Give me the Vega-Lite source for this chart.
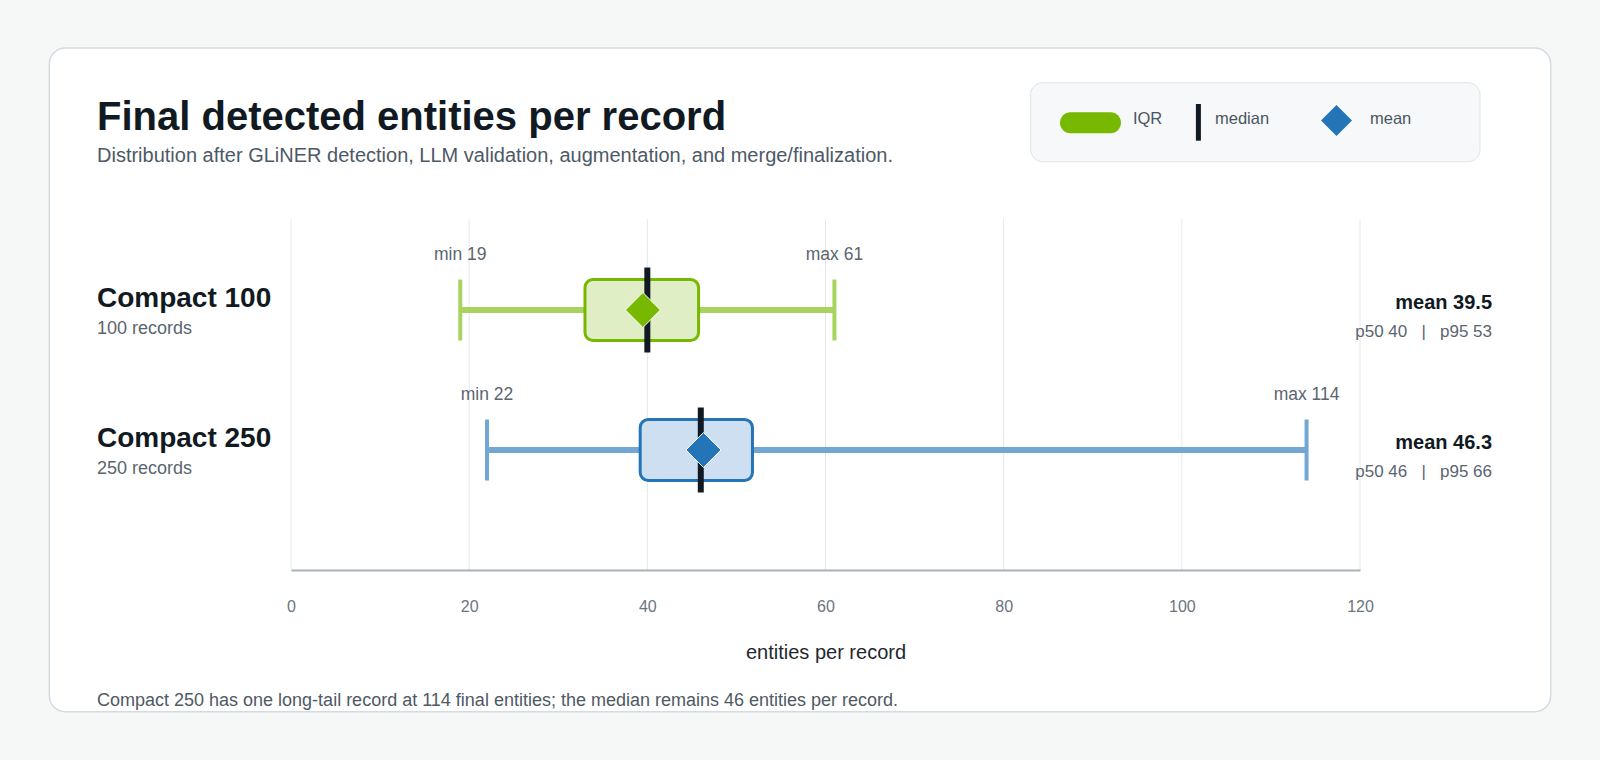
{
  "$schema": "https://vega.github.io/schema/vega-lite/v6.json",
  "width": 1069,
  "height": 351,
  "autosize": {"type": "none"},
  "padding": {"left": 291, "top": 219, "right": 240, "bottom": 190},
  "background": "#f6f8f8",
  "config": {
    "view": {"stroke": null},
    "font": "Liberation Sans",
    "axisX": {
      "grid": false, "ticks": false, "tickSize": 0,
      "domain": true, "domainColor": "#a9b2ba", "domainWidth": 2,
      "labelFont": "Liberation Sans", "labelFontSize": 16, "labelColor": "#6b7580", "labelPadding": 28.4, "labelFlush": false,
      "titleFont": "Liberation Sans", "titleFontSize": 20, "titleFontWeight": "normal", "titleColor": "#1f2830", "titlePadding": 28
    }
  },
  "title": {
    "text": "Final detected entities per record",
    "subtitle": "Distribution after GLiNER detection, LLM validation, augmentation, and merge/finalization.",
    "anchor": "start",
    "frame": "group",
    "dx": -194,
    "offset": -119,
    "font": "Liberation Sans",
    "fontSize": 40,
    "fontWeight": "bold",
    "color": "#111a22",
    "subtitleFont": "Liberation Sans",
    "subtitleFontSize": 20,
    "subtitleColor": "#4d5966",
    "subtitlePadding": 8
  },
  "datasets": {
    "groups": [
      {"group": "Compact 100", "row": 1, "records": 100, "min": 19, "q1": 33, "median": 40, "q3": 45.75, "max": 61, "mean": 39.5, "p50": 40, "p95": 53,
       "name": "Compact 100", "sub": "100 records", "minLabel": "min 19", "maxLabel": "max 61", "meanLabel": "mean 39.5", "pctLabel": "p50 40\u00a0\u00a0 |\u00a0\u00a0 p95 53"},
      {"group": "Compact 250", "row": 2, "records": 250, "min": 22, "q1": 39.2, "median": 46, "q3": 51.8, "max": 114, "mean": 46.3, "p50": 46, "p95": 66,
       "name": "Compact 250", "sub": "250 records", "minLabel": "min 22", "maxLabel": "max 114", "meanLabel": "mean 46.3", "pctLabel": "p50 46\u00a0\u00a0 |\u00a0\u00a0 p95 66"}
    ],
    "ticks": [{"tick": 0}, {"tick": 20}, {"tick": 40}, {"tick": 60}, {"tick": 80}, {"tick": 100}, {"tick": 120}]
  },
  "data": {"name": "groups"},
  "layer": [
    {
      "data": {"values": [{}]},
      "mark": {"type": "rect", "fill": "#ffffff", "stroke": "#d4dbe1", "strokeWidth": 1.5, "cornerRadius": 16},
      "encoding": {
        "x": {"datum": -27.13, "type": "quantitative", "scale": {"domain": [0, 120], "nice": false, "zero": false, "padding": 0}},
        "x2": {"datum": 141.41},
        "y": {"datum": -0.8714, "type": "quantitative", "scale": {"domain": [0.35, 2.8571], "reverse": true, "nice": false, "zero": false, "padding": 0}, "axis": null},
        "y2": {"datum": 3.8693}
      }
    },
    {
      "data": {"values": [{}]},
      "mark": {"type": "rect", "fill": "#f6f8f9", "stroke": "#dfe4e8", "strokeWidth": 1, "cornerRadius": 12},
      "encoding": {
        "x": {"datum": 83.03, "type": "quantitative"},
        "x2": {"datum": 133.47},
        "y": {"datum": -0.6236, "type": "quantitative", "axis": null},
        "y2": {"datum": -0.0593}
      }
    },
    {
      "data": {"name": "ticks"},
      "mark": {"type": "rule", "color": "#e4e8eb", "strokeWidth": 1},
      "encoding": {
        "x": {
          "field": "tick", "type": "quantitative",
          "scale": {"domain": [0, 120], "nice": false, "zero": false, "padding": 0},
          "axis": {
            "title": "entities per record", "values": [0, 20, 40, 60, 80, 100, 120],
            "grid": false, "ticks": false, "tickSize": 0,
            "domain": true, "domainColor": "#a9b2ba", "domainWidth": 2,
            "labelFontSize": 16, "labelColor": "#6b7580", "labelPadding": 28.4, "labelFlush": false,
            "titleFontSize": 20, "titleFontWeight": "normal", "titleColor": "#1f2830", "titlePadding": 28,
            "zindex": 2
          }
        }
      }
    },
    {
      "mark": {"type": "rule", "strokeWidth": 6},
      "encoding": {
        "x": {"field": "min", "type": "quantitative"},
        "x2": {"field": "max"},
        "y": {"field": "row", "type": "quantitative", "scale": {"domain": [0.35, 2.8571], "reverse": true, "nice": false, "zero": false, "padding": 0}, "axis": null},
        "color": {"field": "group", "type": "nominal", "scale": {"domain": ["Compact 100", "Compact 250"], "range": ["#a8d35e", "#73a7d3"]}, "legend": null}
      }
    },
    {
      "mark": {"type": "tick", "orient": "vertical", "size": 61, "thickness": 4, "opacity": 1},
      "encoding": {
        "x": {"field": "min", "type": "quantitative"},
        "y": {"field": "row", "type": "quantitative", "axis": null},
        "color": {"field": "group", "type": "nominal", "scale": {"domain": ["Compact 100", "Compact 250"], "range": ["#a8d35e", "#73a7d3"]}, "legend": null}
      }
    },
    {
      "mark": {"type": "tick", "orient": "vertical", "size": 61, "thickness": 4, "opacity": 1},
      "encoding": {
        "x": {"field": "max", "type": "quantitative"},
        "y": {"field": "row", "type": "quantitative", "axis": null},
        "color": {"field": "group", "type": "nominal", "scale": {"domain": ["Compact 100", "Compact 250"], "range": ["#a8d35e", "#73a7d3"]}, "legend": null}
      }
    },
    {
      "mark": {"type": "bar", "size": 61, "cornerRadius": 8, "strokeWidth": 3, "opacity": 1},
      "encoding": {
        "x": {"field": "q1", "type": "quantitative"},
        "x2": {"field": "q3"},
        "y": {"field": "row", "type": "quantitative", "scale": {"domain": [0.35, 2.8571], "reverse": true, "nice": false, "zero": false, "padding": 0}, "axis": null},
        "fill": {"field": "group", "type": "nominal", "scale": {"domain": ["Compact 100", "Compact 250"], "range": ["#dfeec5", "#cddff0"]}, "legend": null},
        "stroke": {"field": "group", "type": "nominal", "scale": {"domain": ["Compact 100", "Compact 250"], "range": ["#76b900", "#2474b8"]}, "legend": null}
      }
    },
    {
      "mark": {"type": "tick", "orient": "vertical", "size": 85, "thickness": 6, "color": "#111a22", "opacity": 1},
      "encoding": {
        "x": {"field": "median", "type": "quantitative"},
        "y": {"field": "row", "type": "quantitative", "axis": null}
      }
    },
    {
      "mark": {"type": "point", "shape": "diamond", "size": 1225, "filled": true, "stroke": "#ffffff", "strokeWidth": 1, "opacity": 1},
      "encoding": {
        "x": {"field": "mean", "type": "quantitative"},
        "y": {"field": "row", "type": "quantitative", "axis": null},
        "fill": {"field": "group", "type": "nominal", "scale": {"domain": ["Compact 100", "Compact 250"], "range": ["#76b900", "#2474b8"]}, "legend": null}
      }
    },
    {
      "mark": {"type": "text", "align": "left", "baseline": "alphabetic", "dy": -3, "fontSize": 28, "fontWeight": "bold", "color": "#111a22"},
      "encoding": {
        "x": {"datum": -21.78, "type": "quantitative"},
        "y": {"field": "row", "type": "quantitative", "axis": null},
        "text": {"field": "name"}
      }
    },
    {
      "mark": {"type": "text", "align": "left", "baseline": "alphabetic", "dy": 23.5, "fontSize": 18, "color": "#5a6570"},
      "encoding": {
        "x": {"datum": -21.78, "type": "quantitative"},
        "y": {"field": "row", "type": "quantitative", "axis": null},
        "text": {"field": "sub"}
      }
    },
    {
      "mark": {"type": "text", "align": "center", "baseline": "alphabetic", "dy": -50, "fontSize": 17.5, "color": "#5b6570"},
      "encoding": {
        "x": {"field": "min", "type": "quantitative"},
        "y": {"field": "row", "type": "quantitative", "axis": null},
        "text": {"field": "minLabel"}
      }
    },
    {
      "mark": {"type": "text", "align": "center", "baseline": "alphabetic", "dy": -50, "fontSize": 17.5, "color": "#5b6570"},
      "encoding": {
        "x": {"field": "max", "type": "quantitative"},
        "y": {"field": "row", "type": "quantitative", "axis": null},
        "text": {"field": "maxLabel"}
      }
    },
    {
      "mark": {"type": "text", "align": "right", "baseline": "alphabetic", "dy": -1.5, "fontSize": 20, "fontWeight": "bold", "color": "#111a22"},
      "encoding": {
        "x": {"datum": 134.82, "type": "quantitative"},
        "y": {"field": "row", "type": "quantitative", "axis": null},
        "text": {"field": "meanLabel"}
      }
    },
    {
      "mark": {"type": "text", "align": "right", "baseline": "alphabetic", "dy": 26.5, "fontSize": 17, "color": "#5b6570"},
      "encoding": {
        "x": {"datum": 134.82, "type": "quantitative"},
        "y": {"field": "row", "type": "quantitative", "axis": null},
        "text": {"field": "pctLabel"}
      }
    },
    {
      "data": {"values": [{}]},
      "mark": {"type": "rect", "fill": "#76b900", "cornerRadius": 10.5},
      "encoding": {
        "x": {"datum": 86.32, "type": "quantitative"},
        "x2": {"datum": 93.17},
        "y": {"datum": -0.4121, "type": "quantitative", "axis": null},
        "y2": {"datum": -0.2621}
      }
    },
    {
      "data": {"values": [{}]},
      "mark": {"type": "rule", "color": "#111a22", "strokeWidth": 5},
      "encoding": {
        "x": {"datum": 101.86, "type": "quantitative"},
        "y": {"datum": -0.4714, "type": "quantitative", "axis": null},
        "y2": {"datum": -0.2093}
      }
    },
    {
      "data": {"values": [{}]},
      "mark": {"type": "point", "shape": "diamond", "size": 961, "filled": true, "fill": "#2474b8", "strokeWidth": 0, "opacity": 1},
      "encoding": {
        "x": {"datum": 117.36, "type": "quantitative"},
        "y": {"datum": -0.3543, "type": "quantitative", "axis": null}
      }
    },
    {
      "data": {"values": [{}]},
      "mark": {"type": "text", "text": "IQR", "align": "left", "baseline": "alphabetic", "fontSize": 16.5, "color": "#4b5661"},
      "encoding": {
        "x": {"datum": 94.51, "type": "quantitative"},
        "y": {"datum": -0.3264, "type": "quantitative", "axis": null}
      }
    },
    {
      "data": {"values": [{}]},
      "mark": {"type": "text", "text": "median", "align": "left", "baseline": "alphabetic", "fontSize": 16.5, "color": "#4b5661"},
      "encoding": {
        "x": {"datum": 103.72, "type": "quantitative"},
        "y": {"datum": -0.3264, "type": "quantitative", "axis": null}
      }
    },
    {
      "data": {"values": [{}]},
      "mark": {"type": "text", "text": "mean", "align": "left", "baseline": "alphabetic", "fontSize": 16.5, "color": "#4b5661"},
      "encoding": {
        "x": {"datum": 121.12, "type": "quantitative"},
        "y": {"datum": -0.3264, "type": "quantitative", "axis": null}
      }
    },
    {
      "data": {"values": [{}]},
      "mark": {"type": "text", "text": "Compact 250 has one long-tail record at 114 final entities; the median remains 46 entities per record.", "align": "left", "baseline": "alphabetic", "fontSize": 18, "color": "#4e5965"},
      "encoding": {
        "x": {"datum": -21.78, "type": "quantitative"},
        "y": {"datum": 3.8286, "type": "quantitative", "axis": null}
      }
    }
  ],
  "resolve": {"scale": {"color": "independent", "fill": "independent", "stroke": "independent"}}
}
